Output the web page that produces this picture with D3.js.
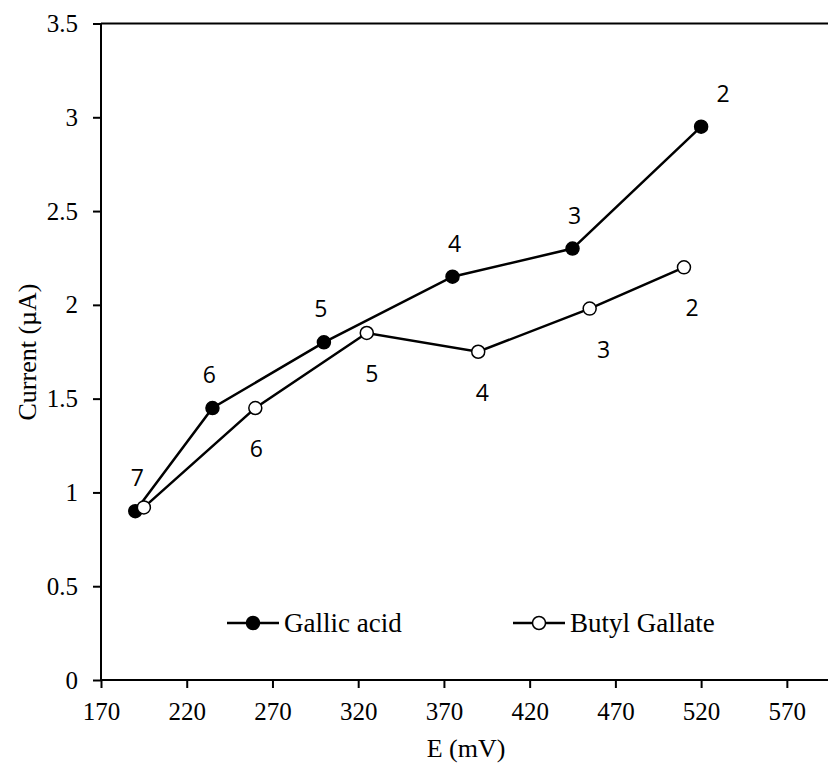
<!DOCTYPE html>
<html>
<head>
<meta charset="utf-8">
<script src="https://cdn.jsdelivr.net/npm/d3@7"></script>
<style>
  body { margin: 0; background: #fff; }
  svg { display: block; }
  .tick text { font-family: "Liberation Serif", "Times New Roman", serif; font-size: 25px; fill: #000; }
</style>
</head>
<body>
<svg id="chart" width="828" height="763"></svg>
<script>
// potential (mV) and current (uA)
const gallicE = [190, 235, 300, 375, 445, 520];
const gallicI = [0.9, 1.45, 1.8, 2.15, 2.3, 2.95];
const gallicLabels = ["7", "6", "5", "4", "3", "2"];

const butylE = [195, 260, 325, 390, 455, 510];
const butylI = [0.92, 1.45, 1.85, 1.75, 1.98, 2.2];
const butylLabels = ["", "6", "5", "4", "3", "2"];

const xTicks = [170, 220, 270, 320, 370, 420, 470, 520, 570];
const yTicks = [0, 0.5, 1, 1.5, 2, 2.5, 3, 3.5];

const svg = d3.select("#chart");

// plot box
const plot = { left: 101, right: 828, top: 23.5, bottom: 680 };

const x = d3.scaleLinear().domain([170, 594]).range([plot.left, plot.right]);
const y = d3.scaleLinear().domain([0, 3.5]).range([plot.bottom, plot.top]);

// axes
const xAxis = svg.append("g")
    .attr("transform", "translate(0," + plot.bottom + ")")
    .call(d3.axisBottom(x).tickValues(xTicks).tickSize(8).tickPadding(14).tickFormat(d3.format("d")));
const yAxis = svg.append("g")
    .attr("transform", "translate(" + plot.left + ",0)")
    .call(d3.axisLeft(y).tickValues(yTicks).tickSize(8).tickPadding(15).tickFormat(d => d));

[xAxis, yAxis].forEach(g => {
    g.select(".domain").attr("stroke", "#000").attr("stroke-width", 2);
    g.selectAll(".tick line").attr("stroke", "#000").attr("stroke-width", 2);
});
xAxis.select(".domain").attr("d", "M" + plot.left + ",0H" + plot.right);
yAxis.select(".domain").attr("d", "M0," + plot.bottom + "V" + plot.top);

// top border line
svg.append("line")
    .attr("x1", plot.left).attr("x2", plot.right)
    .attr("y1", y(3.5)).attr("y2", y(3.5))
    .attr("stroke", "#000").attr("stroke-width", 2);

// axis titles
svg.append("text")
    .attr("x", 466).attr("y", 757)
    .attr("text-anchor", "middle")
    .style("font-family", "'Liberation Serif', 'Times New Roman', serif")
    .style("font-size", "26px")
    .text("E (mV)");

svg.append("text")
    .attr("transform", "translate(36,352) rotate(-90)")
    .attr("text-anchor", "middle")
    .style("font-family", "'Liberation Serif', 'Times New Roman', serif")
    .style("font-size", "26px")
    .text("Current (µA)");

// series
const series = [
    { name: "Gallic acid", e: gallicE, i: gallicI, labels: gallicLabels, fill: "#000", dy: -34,
      nudge: [2, -3, -3, 2, 2, 22] },
    { name: "Butyl Gallate", e: butylE, i: butylI, labels: butylLabels, fill: "#fff", dy: 40,
      nudge: [0, 1, 5, 4, 14, 8] }
];

const line = d3.line().x(d => x(d[0])).y(d => y(d[1]));

series.forEach(s => {
    const pts = s.e.map((v, k) => [v, s.i[k]]);
    svg.append("path")
        .attr("d", line(pts))
        .attr("fill", "none")
        .attr("stroke", "#000")
        .attr("stroke-width", 2.5);

    svg.append("g").selectAll("circle")
        .data(pts)
        .join("circle")
        .attr("cx", d => x(d[0]))
        .attr("cy", d => y(d[1]))
        .attr("r", 6.5)
        .attr("fill", s.fill)
        .attr("stroke", "#000")
        .attr("stroke-width", 1.5);

    svg.append("g").selectAll("text")
        .data(pts)
        .join("text")
        .attr("x", (d, k) => x(d[0]) + s.nudge[k])
        .attr("y", d => y(d[1]) + s.dy)
        .attr("text-anchor", "middle")
        .attr("dominant-baseline", "central")
        .style("font-family", "'Open Sans', 'Noto Sans', sans-serif")
        .style("font-size", "23px")
        .text((d, k) => s.labels[k]);
});

// legend
const legendItems = [
    { name: "Gallic acid", fill: "#000", x0: 227 },
    { name: "Butyl Gallate", fill: "#fff", x0: 513 }
];
const ly = 623;
legendItems.forEach(it => {
    const g = svg.append("g");
    g.append("line")
        .attr("x1", it.x0).attr("x2", it.x0 + 52)
        .attr("y1", ly).attr("y2", ly)
        .attr("stroke", "#000").attr("stroke-width", 2.5);
    g.append("circle")
        .attr("cx", it.x0 + 26).attr("cy", ly).attr("r", 6.5)
        .attr("fill", it.fill).attr("stroke", "#000").attr("stroke-width", 1.5);
    g.append("text")
        .attr("x", it.x0 + 57).attr("y", ly)
        .attr("dominant-baseline", "central")
        .style("font-family", "'Liberation Serif', 'Times New Roman', serif")
        .style("font-size", "27px")
        .text(it.name);
});
</script>
</body>
</html>
